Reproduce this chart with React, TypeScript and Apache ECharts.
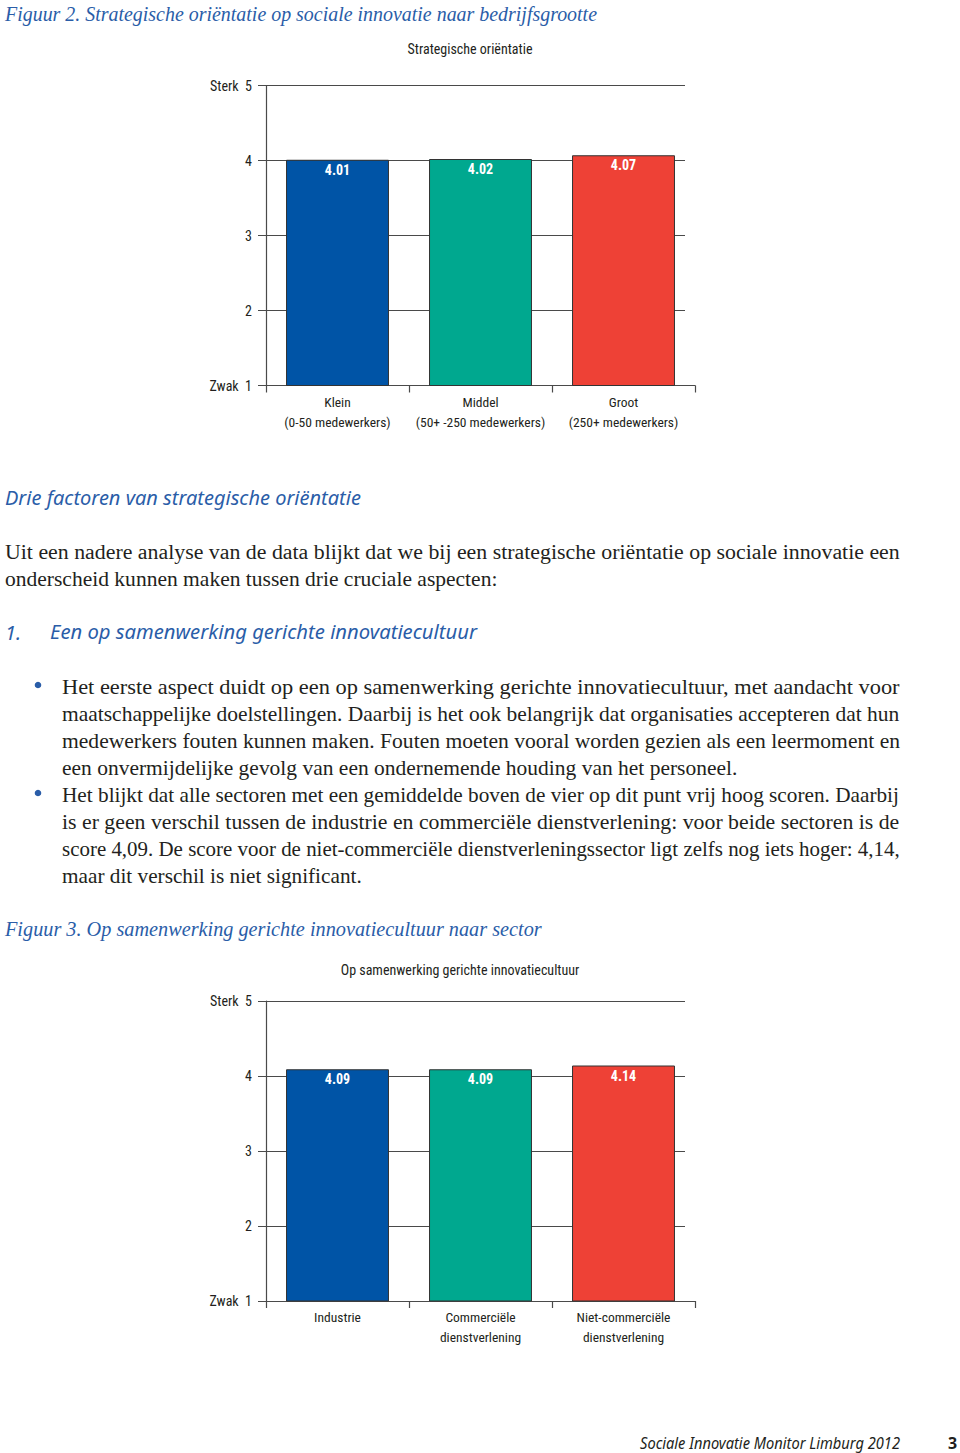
import React, { useEffect, useRef } from "react";
import * as echarts from "echarts";

// ---------- Data ----------
const fig2Title = "Figuur 2. Strategische oriëntatie op sociale innovatie naar bedrijfsgrootte";
const chart1Title = "Strategische oriëntatie";
const sizeCategories = ["Klein\n(0-50 medewerkers)", "Middel\n(50+ -250 medewerkers)", "Groot\n(250+ medewerkers)"];
const sizeValues = [4.01, 4.02, 4.07];

const fig3Title = "Figuur 3. Op samenwerking gerichte innovatiecultuur naar sector";
const chart2Title = "Op samenwerking gerichte innovatiecultuur";
const sectorCategories = ["Industrie", "Commerciële\ndienstverlening", "Niet-commerciële\ndienstverlening"];
const sectorValues = [4.09, 4.09, 4.14];

const barColors = ["#0054a6", "#00a88f", "#ee4136"];
const yMin = 1;
const yMax = 5;
const yTickNames: Record<number, string> = { 5: "Sterk  5", 4: "4", 3: "3", 2: "2", 1: "Zwak  1" };

const heading1 = "Drie factoren van strategische oriëntatie";
const para1 = [
  "Uit een nadere analyse van de data blijkt dat we bij een strategische oriëntatie op sociale innovatie een",
  "onderscheid kunnen maken tussen drie cruciale aspecten:",
];
const heading2Num = "1.";
const heading2 = "Een op samenwerking gerichte innovatiecultuur";
const bullet1 = [
  "Het eerste aspect duidt op een op samenwerking gerichte innovatiecultuur, met aandacht voor",
  "maatschappelijke doelstellingen. Daarbij is het ook belangrijk dat organisaties accepteren dat hun",
  "medewerkers fouten kunnen maken. Fouten moeten vooral worden gezien als een leermoment en",
  "een onvermijdelijke gevolg van een ondernemende houding van het personeel.",
];
const bullet2 = [
  "Het blijkt dat alle sectoren met een gemiddelde boven de vier op dit punt vrij hoog scoren. Daarbij",
  "is er geen verschil tussen de industrie en commerciële dienstverlening: voor beide sectoren is de",
  "score 4,09. De score voor de niet-commerciële dienstverleningssector ligt zelfs nog iets hoger: 4,14,",
  "maar dit verschil is niet significant.",
];
const footerText = "Sociale Innovatie Monitor Limburg 2012";
const pageNumber = "3";

// ---------- Styles ----------
const SERIF = "'Liberation Serif', 'DejaVu Serif', serif";
const SANS = "'Noto Sans', 'Liberation Sans', sans-serif";
const NARROW = "'Liberation Sans Narrow', 'Roboto Condensed', 'Arial Narrow', Roboto, sans-serif";
const BLUE = "#2a5da8";
const TEXT = "#231f20";
const AXIS = "#4a4a4a";

export default function App() {
  const ref = useRef<HTMLDivElement>(null);

  useEffect(() => {
    document.body.style.margin = "0";
    if (!ref.current) return;
    const chart = echarts.init(ref.current, undefined, { renderer: "svg" });

    const ctx = document.createElement("canvas").getContext("2d") as CanvasRenderingContext2D;
    const measure = (t: string, size: number, family: string, style: string, weight: string) => {
      ctx.font = `${style} ${weight} ${size}px ${family}`;
      return ctx.measureText(t).width;
    };

    const line = (
      text: string,
      x: number,
      y: number,
      o: { size: number; family: string; style?: string; weight?: string; color: string; width?: number; align?: string }
    ) => {
      const style = o.style || "normal";
      const weight = o.weight || "normal";
      let scaleX = 1;
      if (o.width) {
        const w = measure(text, o.size, o.family, style, weight);
        if (w > 0) scaleX = o.width / w;
      }
      return {
        type: "text",
        x,
        y,
        scaleX,
        silent: true,
        style: {
          text,
          fontSize: o.size,
          fontFamily: o.family,
          fontStyle: style,
          fontWeight: weight,
          fill: o.color,
          textAlign: o.align || "left",
          align: o.align || "left",
          textVerticalAlign: "middle",
          verticalAlign: "middle",
        },
      };
    };

    const graphics: any[] = [];
    graphics.push(line(fig2Title, 5, 14, { size: 21, family: SERIF, style: "italic", color: BLUE, width: 592 }));
    graphics.push(line(chart1Title, 470, 49, { size: 14, family: NARROW, color: TEXT, align: "center" }));
    graphics.push(line(heading1, 5, 497, { size: 20, family: SANS, style: "italic", color: BLUE, width: 356 }));
    graphics.push(line(para1[0], 5, 552, { size: 20, family: SERIF, color: TEXT, width: 895 }));
    graphics.push(line(para1[1], 5, 579, { size: 20, family: SERIF, color: TEXT, width: 493 }));
    graphics.push(line(heading2Num, 5, 632, { size: 20, family: SANS, style: "italic", color: BLUE }));
    graphics.push(line(heading2, 50, 632, { size: 20, family: SANS, style: "italic", color: BLUE, width: 427 }));
    const bulletWidths1 = [838, 838, 838, 676];
    bullet1.forEach((t, i) =>
      graphics.push(line(t, 62, 687 + i * 27, { size: 20, family: SERIF, color: TEXT, width: bulletWidths1[i] }))
    );
    const bulletWidths2 = [838, 838, 838, 300];
    bullet2.forEach((t, i) =>
      graphics.push(line(t, 62, 795 + i * 27, { size: 20, family: SERIF, color: TEXT, width: bulletWidths2[i] }))
    );
    graphics.push({ type: "circle", silent: true, shape: { cx: 38, cy: 685, r: 3.3 }, style: { fill: BLUE } });
    graphics.push({ type: "circle", silent: true, shape: { cx: 38, cy: 793, r: 3.3 }, style: { fill: BLUE } });
    graphics.push(line(fig3Title, 5, 929, { size: 21, family: SERIF, style: "italic", color: BLUE, width: 537 }));
    graphics.push(line(chart2Title, 460, 970, { size: 14, family: NARROW, color: TEXT, align: "center" }));
    graphics.push(line(footerText, 640, 1443, { size: 16, family: SANS, style: "italic", color: TEXT, width: 260 }));
    graphics.push(line(pageNumber, 948, 1443, { size: 16, family: SANS, weight: "bold", color: TEXT }));

    const tops = [85.5, 1001];
    const cats = [sizeCategories, sectorCategories];
    const vals = [sizeValues, sectorValues];

    const grids: any[] = [];
    const xAxes: any[] = [];
    const yAxes: any[] = [];
    const series: any[] = [];

    tops.forEach((top, k) => {
      const gMain = grids.length;
      grids.push({ left: 266, top, width: 429, height: 300 });
      grids.push({ left: 258, top, width: 427, height: 300 });
      // main axes
      xAxes.push({
        type: "category",
        gridIndex: gMain,
        data: cats[k],
        axisLine: { show: true, lineStyle: { color: AXIS, width: 1.2 } },
        axisTick: { show: true, length: 7, alignWithLabel: false, lineStyle: { color: AXIS, width: 1.2 } },
        axisLabel: { interval: 0, color: TEXT, fontFamily: NARROW, fontSize: 13.5, lineHeight: 20, margin: 6 },
        splitLine: { show: false },
      });
      yAxes.push({
        type: "value",
        gridIndex: gMain,
        min: yMin,
        max: yMax,
        interval: 1,
        axisLine: { show: true, lineStyle: { color: AXIS, width: 1.2 } },
        axisTick: { show: false },
        splitLine: { show: false },
        axisLabel: {
          color: TEXT,
          fontFamily: NARROW,
          fontSize: 14,
          margin: 14,
          formatter: (v: number) => yTickNames[v] ?? String(v),
        },
      });
      // gridline axes
      xAxes.push({ type: "value", gridIndex: gMain + 1, show: false, min: 0, max: 1 });
      yAxes.push({
        type: "value",
        gridIndex: gMain + 1,
        min: yMin,
        max: yMax,
        interval: 1,
        axisLine: { show: false },
        axisTick: { show: false },
        axisLabel: { show: false },
        splitLine: { show: true, lineStyle: { color: AXIS, width: 1.2 } },
      });
      series.push({
        type: "bar",
        xAxisIndex: gMain,
        yAxisIndex: gMain,
        barWidth: "72%",
        data: vals[k].map((v, i) => ({
          value: v,
          itemStyle: { color: barColors[i], borderColor: "#333333", borderWidth: 1 },
        })),
        label: {
          show: true,
          position: "insideTop",
          distance: 3,
          color: "#ffffff",
          fontFamily: NARROW,
          fontWeight: "bold",
          fontSize: 14,
          formatter: (p: any) => p.value.toFixed(2),
        },
        z: 3,
      });
      series.push({
        type: "line",
        xAxisIndex: gMain + 1,
        yAxisIndex: gMain + 1,
        data: [],
        silent: true,
      });
    });

    chart.setOption({
      animation: false,
      backgroundColor: "#ffffff",
      grid: grids,
      xAxis: xAxes,
      yAxis: yAxes,
      series,
      graphic: graphics,
    });

    return () => chart.dispose();
  }, []);

  return <div ref={ref} style={{ width: 960, height: 1453 }} />;
}
